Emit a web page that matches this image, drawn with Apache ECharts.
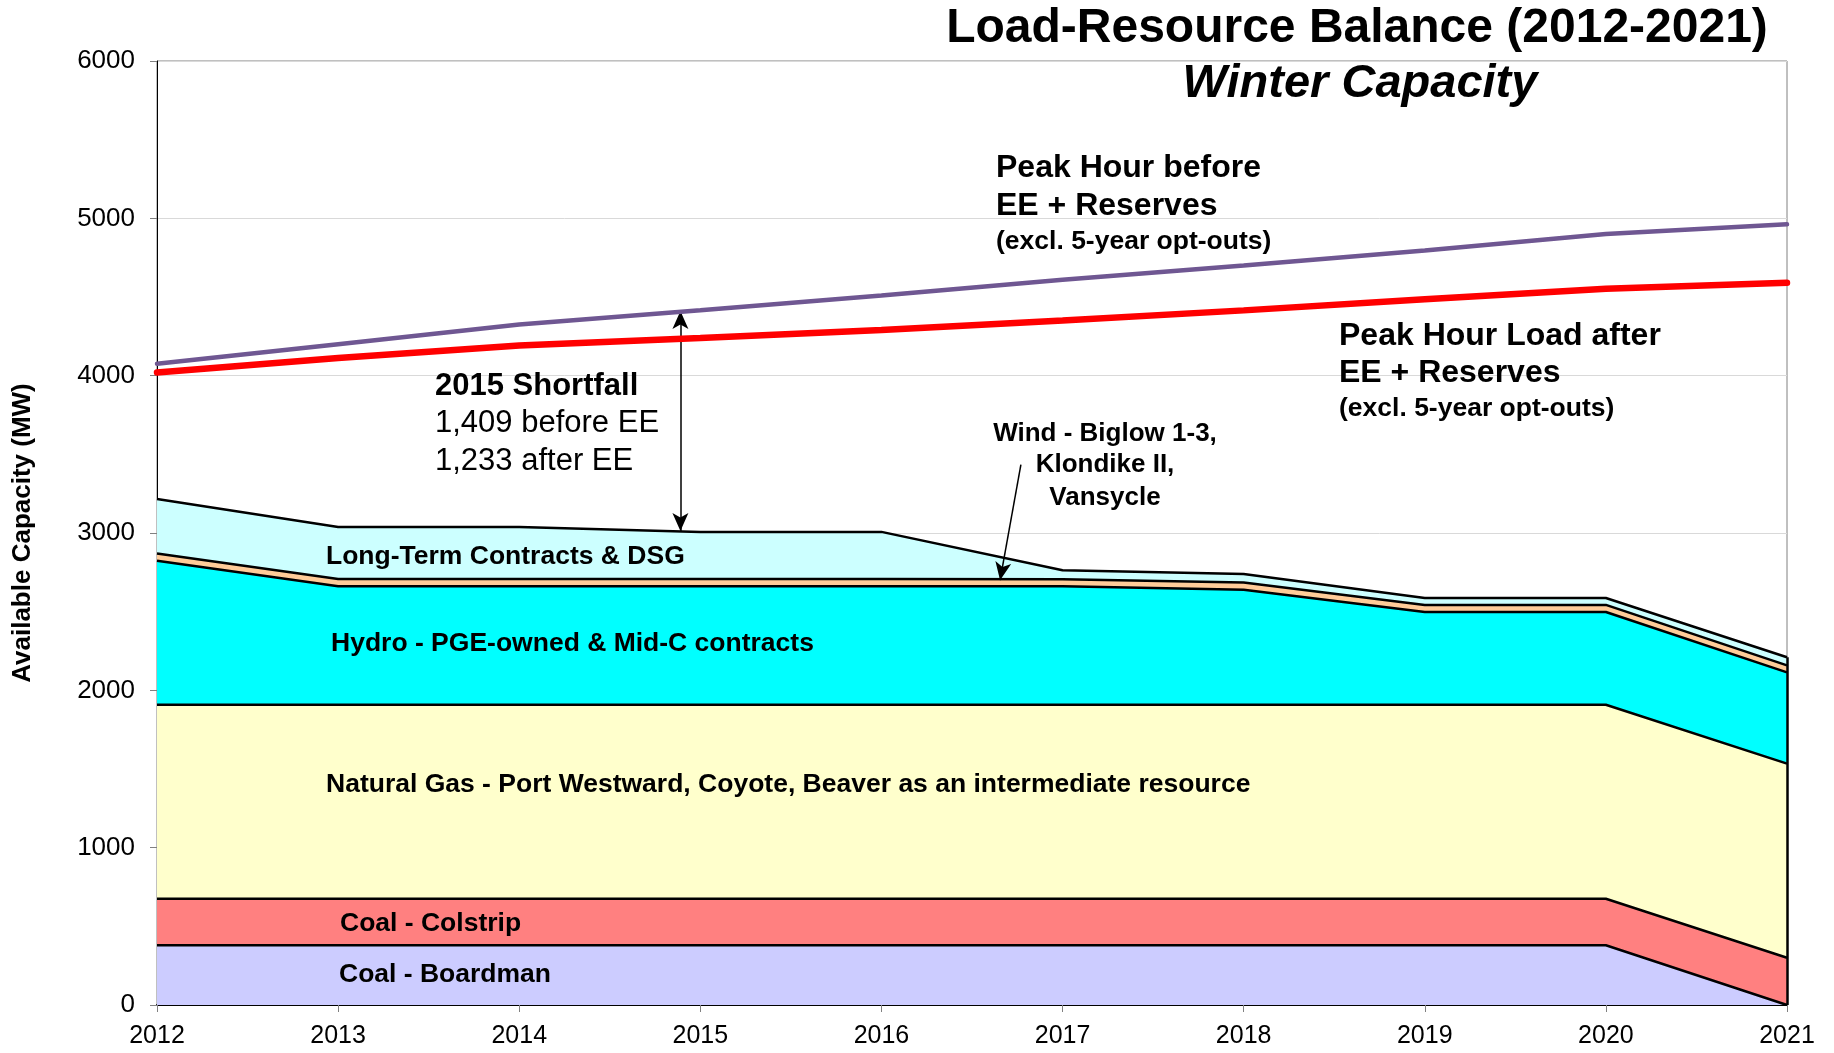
<!DOCTYPE html>
<html>
<head>
<meta charset="utf-8">
<title>Load-Resource Balance (2012-2021)</title>
<script src="https://cdn.jsdelivr.net/npm/echarts@6/dist/echarts.min.js"></script>
<style>
  html, body { margin: 0; padding: 0; background: #fff; }
  #chart { width: 1834px; height: 1053px; }
</style>
</head>
<body>
<div id="chart"></div>
<script>
// Data (MW, winter capacity)
const years = ['2012', '2013', '2014', '2015', '2016', '2017', '2018', '2019', '2020', '2021']
const coalBoardman = [380, 380, 380, 380, 380, 380, 380, 380, 380, 0]
const coalColstrip = [295, 295, 295, 295, 295, 295, 295, 295, 295, 300]
const naturalGas = [1233, 1233, 1233, 1233, 1233, 1233, 1233, 1233, 1233, 1234]
const hydro = [916, 754, 754, 754, 754, 753, 732, 590, 590, 580]
const wind = [45, 45, 45, 45, 45, 45, 45, 45, 45, 45]
const longTerm = [347, 331, 331, 300, 300, 57, 54, 44, 44, 51]
const peakBeforeEE = [4076, 4200, 4325, 4416, 4510, 4610, 4700, 4795, 4900, 4962]
const peakAfterEE = [4020, 4112, 4192, 4240, 4290, 4350, 4415, 4485, 4552, 4590]
const yTicks = [0, 1000, 2000, 3000, 4000, 5000, 6000]

// annotation anchor points (year, MW)
const shortfallYear = 2014.89
const windArrowFrom = [2016.77, 3434]
const windArrowTo = [2016.655, 2700]

const FONT = '"Liberation Sans", Arial, Helvetica, sans-serif'

const lastIdx = years.length - 1
const layers = [coalBoardman, coalColstrip, naturalGas, hydro, wind, longTerm]
const stackTop = i => layers.reduce((s, a) => s + a[i], 0)

function areaSeries(name, data, color) {
  return {
    name,
    type: 'line',
    stack: 'resources',
    symbol: 'none',
    data,
    lineStyle: { color: '#000', width: 2.5 },
    areaStyle: { color, opacity: 1 },
    z: 2
  }
}

function label(text, x, y, size, opts) {
  opts = opts || {}
  return {
    type: 'text',
    x, y,
    z: 100,
    style: {
      text,
      font: (opts.italic ? 'italic ' : '') + (opts.weight || 'bold') + ' ' + size + 'px ' + FONT,
      fill: '#000',
      align: opts.align || 'left',
      textAlign: opts.align || 'left',
      verticalAlign: 'middle',
      textVerticalAlign: 'middle'
    }
  }
}

const chart = echarts.init(document.getElementById('chart'))
chart.setOption({
  animation: false,
  backgroundColor: '#fff',
  grid: {
    left: 157, right: 47, top: 61, bottom: 48,
    outerBoundsMode: 'none',
    show: true, borderColor: '#808080', borderWidth: 1
  },
  xAxis: [{
    type: 'category',
    data: years,
    boundaryGap: false,
    axisLine: { show: true, lineStyle: { color: '#000', width: 2 } },
    axisTick: { show: true, length: 7, lineStyle: { color: '#808080' } },
    axisLabel: { color: '#000', fontSize: 25, fontFamily: FONT, margin: 19 },
    splitLine: { show: false }
  }, {
    // hidden numeric twin of the year axis, for annotation arrows
    type: 'value',
    min: 2012, max: 2021,
    show: false
  }],
  yAxis: {
    type: 'value',
    min: yTicks[0], max: yTicks[yTicks.length - 1], interval: 1000,
    name: 'Available Capacity (MW)',
    nameLocation: 'middle',
    nameGap: 121,
    nameTextStyle: { color: '#000', fontSize: 26, fontWeight: 'bold', fontFamily: FONT },
    axisLine: { show: true, lineStyle: { color: '#000', width: 1 } },
    axisTick: { show: true, length: 7, lineStyle: { color: '#808080' } },
    axisLabel: { color: '#000', fontSize: 26, fontFamily: FONT, margin: 22, formatter: v => String(v) },
    splitLine: { show: true, lineStyle: { color: '#d9d9d9', width: 1 } }
  },
  series: [
    areaSeries('Coal - Boardman', coalBoardman, '#CCCCFF'),
    areaSeries('Coal - Colstrip', coalColstrip, '#FF8080'),
    areaSeries('Natural Gas', naturalGas, '#FFFFCC'),
    areaSeries('Hydro', hydro, '#00FFFF'),
    areaSeries('Wind', wind, '#FFCC99'),
    areaSeries('Long-Term Contracts & DSG', longTerm, '#CCFFFF'),
    {
      name: 'Peak Hour before EE + Reserves',
      type: 'line',
      symbol: 'none',
      data: peakBeforeEE,
      lineStyle: { color: '#6F5792', width: 4.5, cap: 'round' },
      z: 5
    },
    {
      name: 'Peak Hour Load after EE + Reserves',
      type: 'line',
      symbol: 'none',
      data: peakAfterEE,
      lineStyle: { color: '#FF0000', width: 6.5, cap: 'round' },
      z: 6
    },
    {
      name: 'annotations',
      type: 'line',
      xAxisIndex: 1,
      data: [],
      z: 8,
      markLine: {
        silent: true,
        animation: false,
        label: { show: false },
        symbolSize: [12, 18],
        lineStyle: { color: '#000', width: 1.5, type: 'solid' },
        data: [
          [{ coord: [shortfallYear, stackTop(3) + 5], symbol: 'arrow' },
           { coord: [shortfallYear, peakBeforeEE[3] - 5], symbol: 'arrow' }],
          [{ coord: windArrowFrom, symbol: 'none' },
           { coord: windArrowTo, symbol: 'arrow' }],
          [{ coord: [2021, 0], symbol: 'none', lineStyle: { width: 2.5 } },
           { coord: [2021, stackTop(lastIdx)], symbol: 'none' }]
        ]
      }
    }
  ],
  graphic: [
    label('Load-Resource Balance (2012-2021)', 1357, 29, 48, { align: 'center' }),
    label('Winter Capacity', 1360, 84, 47, { align: 'center', italic: true }),

    label('Peak Hour before', 996, 168, 32),
    label('EE + Reserves', 996, 206, 32),
    label('(excl. 5-year opt-outs)', 996, 242, 26.5),

    label('Peak Hour Load after', 1339, 336, 32),
    label('EE + Reserves', 1339, 373, 32),
    label('(excl. 5-year opt-outs)', 1339, 409, 26.5),

    label('2015 Shortfall', 435, 386, 31),
    label('1,409 before EE', 435, 423, 31, { weight: 'normal' }),
    label('1,233 after EE', 435, 461, 31, { weight: 'normal' }),

    label('Wind - Biglow 1-3,', 1105, 434, 26, { align: 'center' }),
    label('Klondike II,', 1105, 465, 26, { align: 'center' }),
    label('Vansycle', 1105, 498, 26, { align: 'center' }),

    label('Long-Term Contracts & DSG', 326, 557, 26.5),
    label('Hydro - PGE-owned & Mid-C contracts', 331, 644, 26.5),
    label('Natural Gas - Port Westward, Coyote, Beaver as an intermediate resource', 326, 785, 26.5),
    label('Coal - Colstrip', 340, 924, 26.5),
    label('Coal - Boardman', 339, 975, 26.5)
  ]
})
</script>
</body>
</html>
